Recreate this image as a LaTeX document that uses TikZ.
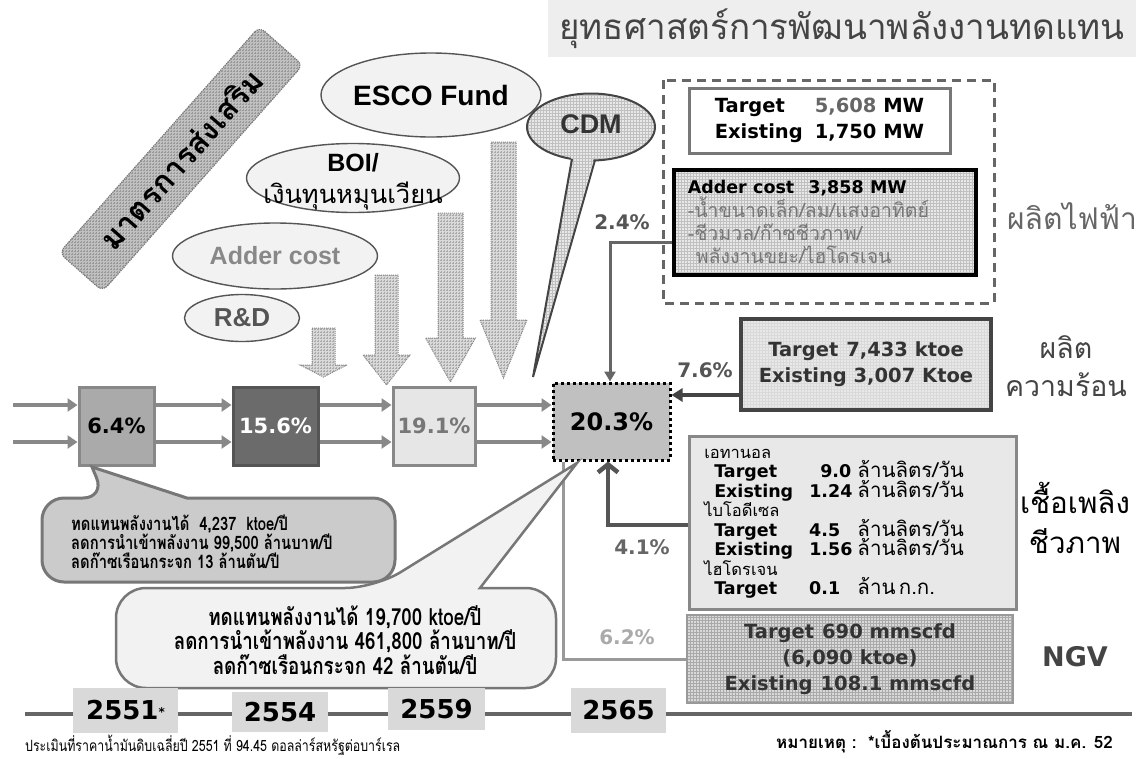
\documentclass[tikz,border=0pt]{standalone}
\usepackage{fontspec}
\setmainfont{DejaVu Sans}
\newfontfamily\thai[Script=Thai]{Loma}
\newfontfamily\thainarrow[Script=Thai,FakeStretch=0.8]{Loma}
\newfontfamily\arialf{Liberation Sans}
\usetikzlibrary{shapes.geometric,patterns,arrows.meta,calc}

\newcommand\fsz[2]{\fontsize{#1pt}{#2pt}\selectfont}
\newcommand\blkarrow[6]{% centre x, top y, head y, tip y, shaft half width, head half width
  \draw[blk] (#1-#5,#2) -- (#1+#5,#2) -- (#1+#5,#3) -- (#1+#6,#3) -- (#1,#4)
    -- (#1-#6,#3) -- (#1-#5,#3) -- cycle;}
% Thai entries of the biofuel table, kept from widening the rows
\newcommand\bunit[1]{\smash{\thai\fsz{20.5}{19.5}#1}}
\newcommand\bhead[1]{\smash{\thai\fsz{16.5}{19.5}#1}}

\definecolor{titlebg}{HTML}{EEEEEE}
\definecolor{titletx}{HTML}{444444}
\definecolor{ellfill}{HTML}{F2F2F2}
\definecolor{ellline}{HTML}{555555}
\definecolor{g33}{HTML}{333333}
\definecolor{g44}{HTML}{444444}
\definecolor{g55}{HTML}{555555}
\definecolor{g66}{HTML}{666666}
\definecolor{g77}{HTML}{777777}
\definecolor{g88}{HTML}{888888}
\definecolor{g99}{HTML}{999999}
\definecolor{gAA}{HTML}{AAAAAA}
\definecolor{gC0}{HTML}{C0C0C0}
\definecolor{gCC}{HTML}{CBCBCB}
\definecolor{gD9}{HTML}{D9D9D9}
\definecolor{gE8}{HTML}{E8E8E8}
\definecolor{gF2}{HTML}{F2F2F2}

\tikzset{
  gridded/.style 2 args={preaction={fill=#1}, pattern=grid, pattern color=#2},
  ell/.style={ellipse, draw=ellline, line width=1.4pt, fill=ellfill, inner sep=0pt},
  banner/.style={rectangle, rounded corners=7pt, draw=g77, densely dotted, line width=1.2pt,
    gridded={gC0}{g99}, minimum width=302pt, minimum height=58pt, inner sep=0pt},
  blk/.style={draw=g88, densely dotted, line width=1pt, gridded={gD9}{gAA}},
  cdmfill/.style={gridded={gE8}{gC0}},
  fbox/.style={rectangle, line width=3pt, inner sep=0pt, minimum height=78pt,
    font=\bfseries\fsz{21}{21}},
  flow/.style={draw=g88, line width=4pt, -{Triangle[length=10pt,width=13pt]}},
  pct/.style={font=\bfseries\fsz{20}{20}, inner sep=0pt},
  yearbox/.style={fill=gD9, inner sep=0pt, font=\bfseries\fsz{26}{26}},
  sidelabel/.style={align=center, inner sep=0pt},
}

\begin{document}
\begin{tikzpicture}[x=1pt,y=-1pt]
\useasboundingbox (0,0) rectangle (1141,758);
\fill[white] (0,0) rectangle (1141,758);

% heading
\node[fill=titlebg, minimum width=588pt, minimum height=57pt, inner sep=0pt,
      text=titletx, font=\thai\fsz{35}{35}] (title) at (842,28.5)
      {ยุทธศาสตร์การพัฒนาพลังงานทดแทน};

% promotion measures banner
\node[banner, rotate=48.5] (banner) at (181,159)
      {\thai\bfseries\fsz{31}{31}มาตรการส่งเสริม};

% measure ellipses
\node[ell, minimum width=220pt, minimum height=84pt] (esco) at (431,95) {};
\node[inner sep=0pt, font=\arialf\bfseries\fsz{28}{28}] (escot) at (esco.center) {ESCO Fund};
\node[ell, minimum width=213pt, minimum height=69pt] (boi) at (353,178) {};
\node[inner sep=0pt, align=center, font=\fsz{25}{32}] (boit) at (353,182)
      {{\arialf\bfseries BOI/}\\{\thai\fsz{25.5}{32}เงินทุนหมุนเวียน}};
\node[ell, minimum width=205pt, minimum height=66pt] (addell) at (275,256) {};
\node[inner sep=0pt, text=g88, font=\arialf\bfseries\fsz{25}{25}] (addellt) at (addell.center) {Adder cost};
\node[ell, minimum width=115pt, minimum height=47pt] (rd) at (242,318) {};
\node[inner sep=0pt, text=g55, font=\arialf\bfseries\fsz{26}{26}] (rdt) at (rd.center) {R\&D};

% block arrows
\blkarrow{323.5}{328}{365}{377}{11.5}{23.5}
\blkarrow{386.5}{275}{355}{385}{11.5}{23.5}
\blkarrow{450.5}{213}{338}{382}{12.5}{25}
\blkarrow{503.5}{142}{320}{378}{12.5}{23.5}

% CDM speech bubble
\node[ellipse, draw=g44, line width=2pt, cdmfill, inner sep=0pt,
      minimum width=128pt, minimum height=67pt] (cdm) at (591,127) {};
\coordinate (cdmtip) at (533,377);
\path[cdmfill] (572,153) -- (cdmtip) -- (595,154) -- cycle;
\draw[g44, line width=2pt, line join=miter] (572,159) -- (cdmtip) -- (595,160);
\node[inner sep=0pt, text=g33, font=\arialf\bfseries\fsz{27}{27}] (cdmt) at (591,124) {CDM};

% electricity group
\draw[g66, line width=3pt, dash pattern=on 9pt off 6pt] (663,80) rectangle (994,303);
\node[draw=g77, line width=3pt, fill=white, minimum width=261pt, minimum height=65pt,
      inner sep=0pt, font=\bfseries\fsz{19.5}{26}] (tgt) at (819.5,120.5)
      {\begin{tabular}{@{}l@{\hspace{12pt}}l@{}}
        Target & \textcolor{g66}{5,608} MW\\
        Existing & 1,750 MW
       \end{tabular}};
\node[draw=black, line width=3.5pt, gridded={gE8}{gC0}, anchor=north west,
      text width=274pt, inner xsep=14pt, inner ysep=0pt, minimum height=105pt, align=left,
      font=\fsz{19}{23}] (addbox) at (672,168)
      {{\bfseries\fsz{17.5}{23}Adder cost\hspace{14pt}3,858 MW}\\
       {\thai\fsz{19.5}{23}\color{g77}-น้ำขนาดเล็ก/ลม/แสงอาทิตย์}\\
       {\thai\fsz{19.5}{23}\color{g77}-ชีวมวล/ก๊าซชีวภาพ/}\\
       {\thai\fsz{19.5}{23}\color{g77}\hspace{8pt}พลังงานขยะ/ไฮโดรเจน}};
\node[sidelabel, text=g66, font=\thai\fsz{30}{36}] (lbelec) at (1072,216) {ผลิตไฟฟ้า};

% heat
\node[draw=g44, line width=3.5pt, gridded={gE8}{gD9}, minimum width=250pt, minimum height=91pt,
      inner sep=0pt, align=center, text=g33, font=\bfseries\fsz{19.5}{26}] (heat) at (866,364.5)
      {Target\hspace{8pt}7,433 ktoe\\Existing 3,007 Ktoe};
\node[sidelabel, text=g44, font=\thai\fsz{28.5}{38}] (lbheat) at (1066,366) {ผลิต\\ความร้อน};

% biofuel
\node[draw=g88, line width=2.5pt, fill=gE8, anchor=north west, text width=297pt,
      inner xsep=15pt, inner ysep=0pt, minimum height=173pt, align=left] (bio) at (688,435)
      {\fsz{17.5}{19.5}\begin{tabular}{@{}l@{\hspace{16pt}}l@{\hspace{5pt}}l@{}}
        \multicolumn{3}{@{}l}{\bhead{เอทานอล}}\\
        \hspace{10pt}\bfseries Target & \bfseries\hspace{11pt}9.0 & \bunit{ล้านลิตร/วัน}\\
        \hspace{10pt}\bfseries Existing & \bfseries 1.24 & \bunit{ล้านลิตร/วัน}\\
        \multicolumn{3}{@{}l}{\bhead{ไบโอดีเซล}}\\
        \hspace{10pt}\bfseries Target & \bfseries 4.5 & \bunit{ล้านลิตร/วัน}\\
        \hspace{10pt}\bfseries Existing & \bfseries 1.56 & \bunit{ล้านลิตร/วัน}\\
        \multicolumn{3}{@{}l}{\bhead{ไฮโดรเจน}}\\
        \hspace{10pt}\bfseries Target & \bfseries 0.1 & \bunit{ล้าน ก.ก.}
       \end{tabular}};
\node[sidelabel, text=black, font=\thai\fsz{29.5}{40}] (lbbio) at (1075,518) {เชื้อเพลิง\\ชีวภาพ};

% NGV
\node[draw=g99, line width=2.5pt, gridded={gD9}{gAA}, minimum width=326pt, minimum height=88pt,
      inner sep=0pt, align=center, text=g33, font=\bfseries\fsz{19.5}{26}] (ngv) at (850,659)
      {Target\hspace{8pt}690 mmscfd\\(6,090 ktoe)\\Existing\hspace{8pt}108.1 mmscfd};
\node[inner sep=0pt, text=g44, font=\bfseries\fsz{27}{27}] (lbngv) at (1075,657) {NGV};

% share boxes
\node[fbox, draw=g88, fill=gAA, minimum width=75pt] (b64) at (116.5,426) {6.4\%};
\node[fbox, draw=g55, fill=g77!90!black, text=white, minimum width=85pt] (b156) at (275.5,426) {15.6\%};
\node[fbox, draw=g88, fill=gF2!95!black, text=g77, minimum width=82pt] (b191) at (434,426) {19.1\%};
\node[fbox, draw=black, fill=gC0, line width=3pt, dash pattern=on 3pt off 3pt,
      minimum width=117pt, minimum height=77pt, font=\bfseries\fsz{24}{24}] (b203) at (611.5,421.5) {20.3\%};

\coordinate (s1) at (13,405);
\coordinate (s2) at (13,442);
\foreach \r in {s1,s2}{
  \draw[flow] (\r) -- (b64.west |- \r);
  \draw[flow] (b64.east |- \r) -- (b156.west |- \r);
  \draw[flow] (b156.east |- \r) -- (b191.west |- \r);
  \draw[flow] (b191.east |- \r) -- (b203.west |- \r);
}

% contributions into the 2565 share
\coordinate (k24) at (610,242);
\draw[draw=g66, line width=3pt, -{Triangle[length=10pt,width=11pt]}] (addbox.west |- k24) -| (b203.north -| k24);
\node[pct, text=g55] (p24) at (622,222) {2.4\%};

\coordinate (k76) at (0,395);
\draw[draw=g44, line width=3.5pt, -{Triangle[length=11pt,width=13pt]}] (heat.west |- k76) -- (b203.east |- k76);
\node[pct, text=g55] (p76) at (705,370) {7.6\%};

\coordinate (k41) at (608,525);
\draw[draw=g55, line width=4.5pt, -{Straight Barb[length=8pt,width=20pt]}] (bio.west |- k41) -| (b203.south -| k41);
\node[pct, text=g66] (p41) at (642,547) {4.1\%};

\coordinate (k62) at (563,0);
\draw[draw=g99, line width=3pt] (b203.south -| k62) |- (ngv.west);
\node[pct, text=gAA] (p62) at (627,637) {6.2\%};

% callouts
\draw[fill=gCC, draw=g77, line width=3pt]
  (187,498) [rounded corners=22pt] -- (395,498) -- (395,582) -- (42,582) -- (42,498) -- (105,498)
  [sharp corners] -- (92,467) -- cycle;
\node[anchor=west, align=left, inner sep=0pt, font=\thainarrow\bfseries\fsz{18.5}{19}] (c1t) at (71,542)
  {ทดแทนพลังงานได้\ \ 4,237\ \ ktoe/ปี\\ลดการนำเข้าพลังงาน 99,500 ล้านบาท/ปี\\ลดก๊าซเรือนกระจก 13 ล้านตัน/ปี};

\draw[fill=gF2, draw=g77, line width=2.5pt]
  (480,588) [rounded corners=30pt] -- (556,588) -- (556,688) -- (116,688) -- (116,588) -- (375,588)
  [sharp corners] -- (577,463) -- cycle;
\node[align=center, inner sep=0pt, font=\thainarrow\bfseries\fsz{23.5}{22.5}] (c2t) at (345,640)
  {ทดแทนพลังงานได้ 19,700 ktoe/ปี\\ลดการนำเข้าพลังงาน 461,800 ล้านบาท/ปี\\ลดก๊าซเรือนกระจก 42 ล้านตัน/ปี};

% time line
\draw[g66, line width=3.5pt] (25,714) -- (1132,714);
\node[yearbox, minimum width=105pt, minimum height=45pt] (y51) at (125.5,710.5) {2551{\fsz{12}{12}\raisebox{3pt}{*}}};
\node[yearbox, minimum width=96pt, minimum height=40pt] (y54) at (280,712) {2554};
\node[yearbox, minimum width=97pt, minimum height=42pt] (y59) at (436.5,709) {2559};
\node[yearbox, minimum width=95pt, minimum height=45pt] (y65) at (618.5,710.5) {2565};

% notes
\node[anchor=west, inner sep=0pt, font=\thainarrow\fsz{15.5}{16}] (note1) at (25,745)
  {ประเมินที่ราคาน้ำมันดิบเฉลี่ยปี 2551 ที่ 94.45 ดอลล่าร์สหรัฐต่อบาร์เรล};
\node[anchor=east, inner sep=0pt, font=\thai\bfseries\fsz{17}{17}] (note2) at (1113,742)
  {หมายเหตุ :\ \ *เบื้องต้นประมาณการ ณ ม.ค. 52};
\end{tikzpicture}
\end{document}
